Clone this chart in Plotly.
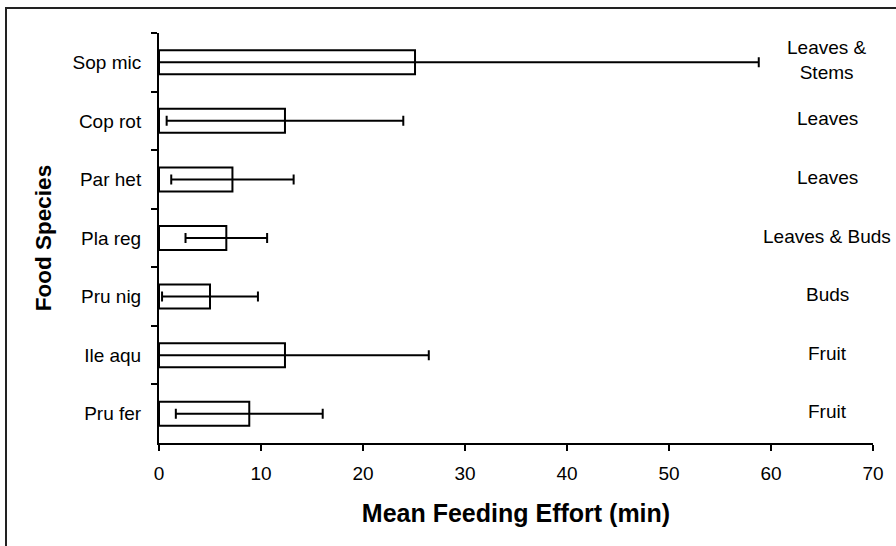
import plotly.graph_objects as go

species = ["Sop mic", "Cop rot", "Par het", "Pla reg", "Pru nig", "Ile aqu", "Pru fer"]
mean_effort = [25.1, 12.35, 7.2, 6.6, 5.0, 12.35, 8.85]
error = [33.7, 11.6, 6.0, 4.0, 4.7, 14.1, 7.2]
food_part = ["Leaves &<br>Stems", "Leaves", "Leaves", "Leaves & Buds", "Buds", "Fruit", "Fruit"]
x_ticks = [0, 10, 20, 30, 40, 50, 60, 70]

W, H = 896, 546
L, R, T, B = 159, 23, 33, 103
FONT = "Liberation Sans, Arial, sans-serif"

fig = go.Figure()
fig.add_trace(go.Bar(
    y=species, x=mean_effort, orientation="h",
    marker=dict(color="white", line=dict(color="black", width=2)),
    error_x=dict(type="data", array=error, symmetric=True, color="black", thickness=2, width=5),
    showlegend=False, hoverinfo="skip",
))

for sp, txt in zip(species, food_part):
    fig.add_annotation(x=65.5, y=sp, xref="x", yref="y", text=txt, showarrow=False,
                       xanchor="center", yanchor="middle", yshift=2,
                       font=dict(family=FONT, size=19, color="black"))

pw = W - L - R
ph = H - T - B
# outer chart border (left and top edges visible)
fig.add_shape(type="rect", xref="paper", yref="paper",
              x0=(6 - L) / pw, x1=1.2, y0=-0.4, y1=(H - B - 8) / ph,
              line=dict(color="#222", width=2), fillcolor="rgba(0,0,0,0)", layer="below")

fig.update_layout(
    width=W, height=H,
    margin=dict(l=L, r=R, t=T, b=B, pad=0),
    paper_bgcolor="white", plot_bgcolor="white",
    bargap=0.59,
    font=dict(family=FONT, size=19, color="black"),
    xaxis=dict(
        range=[0, 70], tickvals=x_ticks, ticktext=[str(v) for v in x_ticks],
        showgrid=False, zeroline=False, showline=True, linecolor="black", linewidth=2,
        ticks="outside", ticklen=6, tickwidth=2, tickcolor="black",
        ticklabelstandoff=6,
        title=dict(text="<b>Mean Feeding Effort (min)</b>", standoff=22,
                   font=dict(family=FONT, size=25)),
    ),
    yaxis=dict(
        type="category", categoryorder="array", categoryarray=species,
        autorange="reversed",
        showgrid=False, zeroline=False, showline=True, linecolor="black", linewidth=2,
        ticks="outside", ticklen=6, tickwidth=2, tickcolor="black",
        tickson="boundaries", ticklabelstandoff=12,
        title=dict(text="<b>Food Species</b>", standoff=15,
                   font=dict(family=FONT, size=22.5)),
    ),
)

fig.write_html("out.html", config={"displayModeBar": False},
               post_script="document.body.style.margin='0';")
